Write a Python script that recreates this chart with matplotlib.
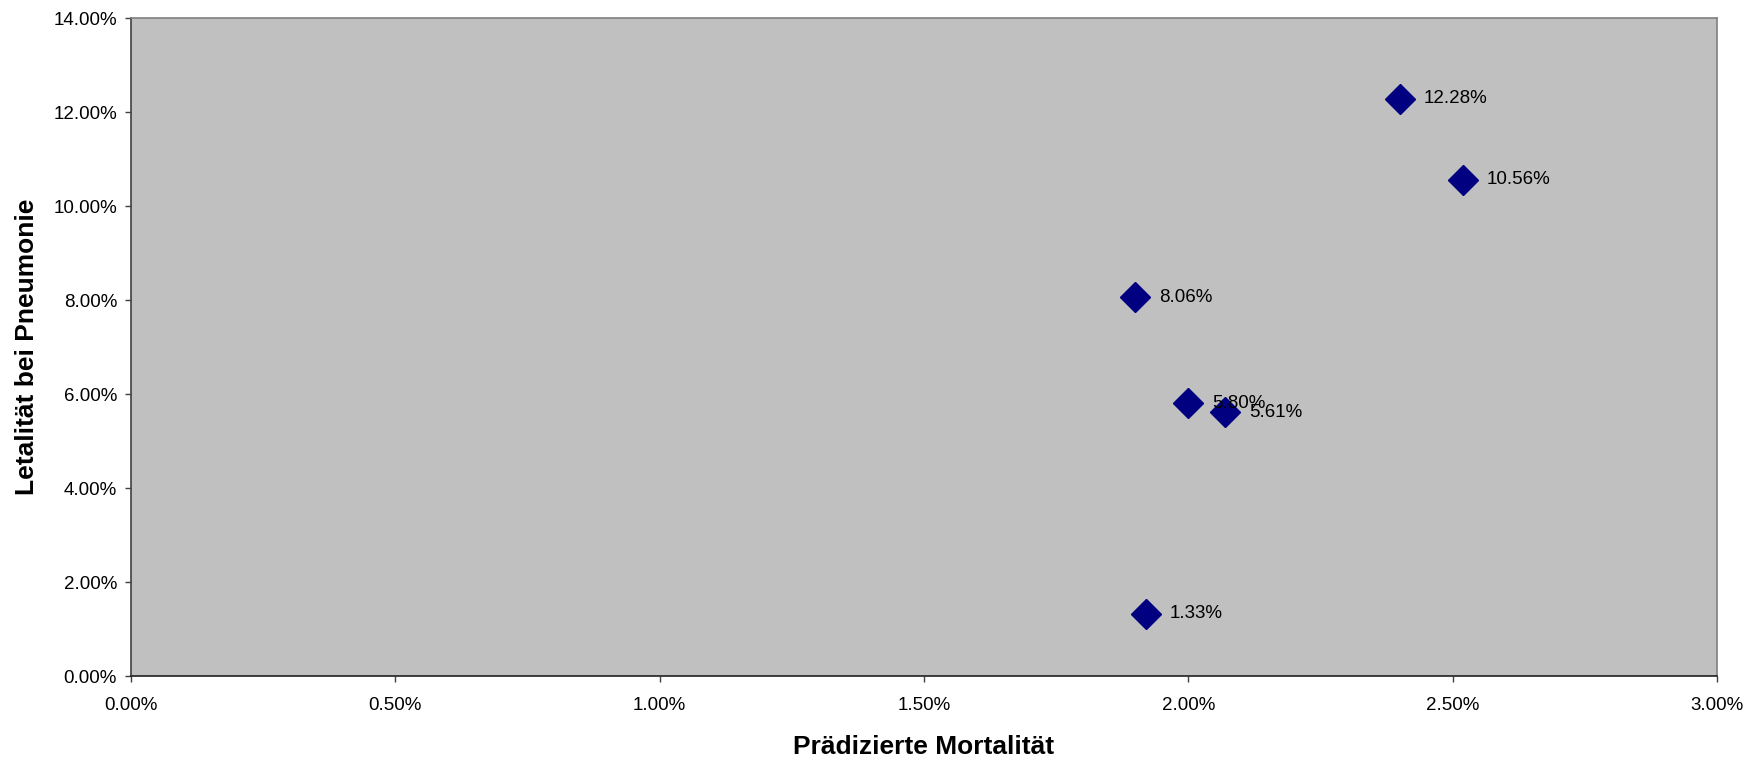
import matplotlib
matplotlib.use("Agg")
from matplotlib import pyplot as plt
from matplotlib.ticker import PercentFormatter

# predicted mortality vs. pneumonia lethality (in percent)
pred_mortality = [2.40, 2.52, 1.90, 2.00, 2.07, 1.92]
lethality = [12.28, 10.56, 8.06, 5.80, 5.61, 1.33]
xticks = [0.0, 0.5, 1.0, 1.5, 2.0, 2.5, 3.0]
yticks = [0, 2, 4, 6, 8, 10, 12, 14]

plt.rcParams['font.family'] = ['Liberation Sans', 'DejaVu Sans']

fig = plt.figure(figsize=(17.63, 7.6), dpi=100)
ax = fig.add_axes([0.0743, 0.1105, 0.8996, 0.8658])
ax.set_facecolor('#C0C0C0')

ax.plot(pred_mortality, lethality, linestyle='none', marker='D', markersize=15,
        color='#000080', markeredgecolor='#000080', zorder=3)
for x, y in zip(pred_mortality, lethality):
    ax.annotate('%.2f%%' % y, (x, y), xytext=(17, 0), textcoords='offset points',
                va='center', ha='left', fontsize=13.5, color='black', zorder=4)

ax.set_xlim(0, 3)
ax.set_ylim(0, 14)
ax.set_xticks(xticks)
ax.set_yticks(yticks)
ax.xaxis.set_major_formatter(PercentFormatter(decimals=2))
ax.yaxis.set_major_formatter(PercentFormatter(decimals=2))
ax.tick_params(axis='both', direction='out', length=4, width=1, labelsize=13.5, color='#404040')
ax.tick_params(axis='x', pad=11)
ax.tick_params(axis='y', pad=6)

ax.spines['left'].set_color('#404040')
ax.spines['bottom'].set_color('#202020')
ax.spines['top'].set_color('#808080')
ax.spines['right'].set_color('#808080')
for s in ax.spines.values():
    s.set_linewidth(1.2)

ax.set_xlabel('Prädizierte Mortalität', fontsize=19, fontweight='bold', labelpad=15)
ax.set_ylabel('Letalität bei Pneumonie', fontsize=19, fontweight='bold', labelpad=10)

fig.savefig('out.png', dpi=100, facecolor='white')
